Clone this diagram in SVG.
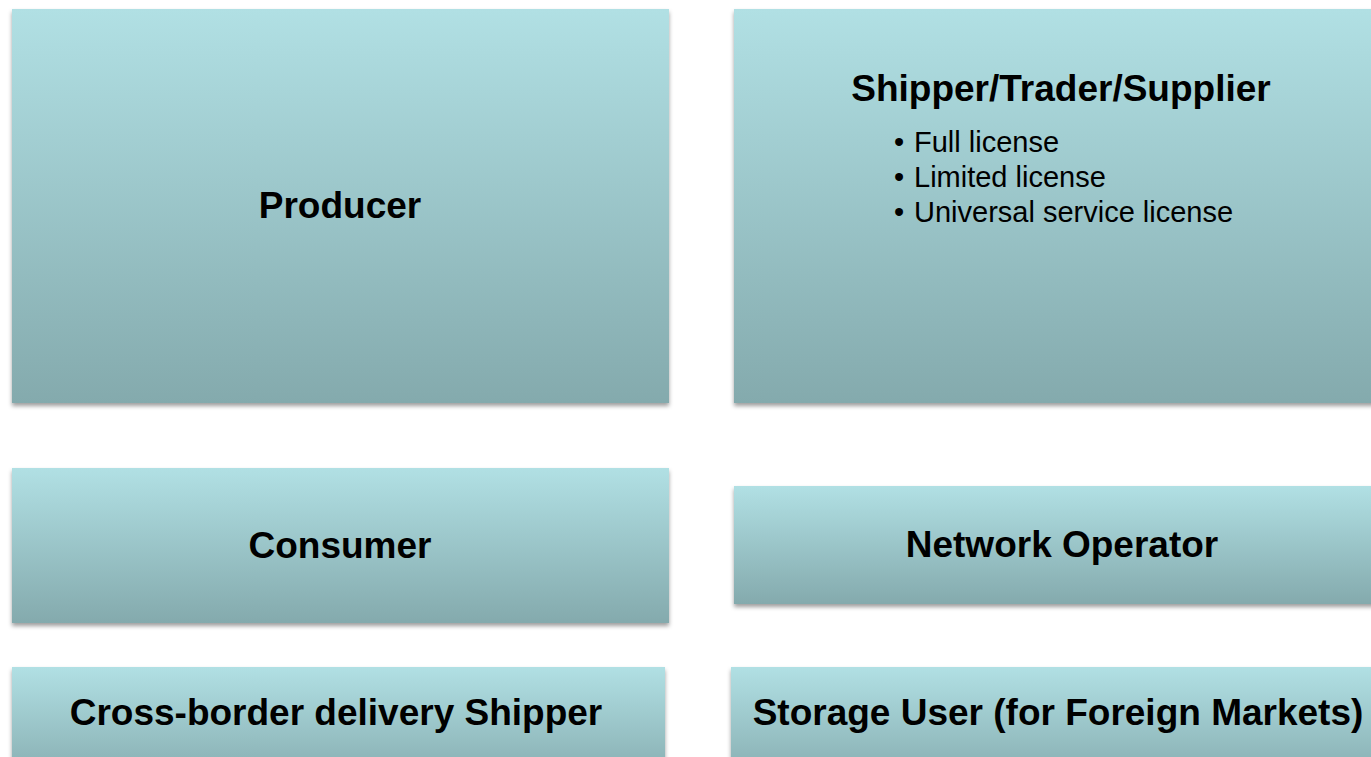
<svg xmlns="http://www.w3.org/2000/svg" width="1371" height="757" viewBox="0 0 1371 757">
  <defs>
    <linearGradient id="g" x1="0" y1="0" x2="0" y2="1">
      <stop offset="0" stop-color="#B1E0E4"/>
      <stop offset="1" stop-color="#84AAAD"/>
    </linearGradient>
    <filter id="sh" x="-5%" y="-5%" width="110%" height="120%">
      <feDropShadow dx="0" dy="3" stdDeviation="2.2" flood-color="#000" flood-opacity="0.38"/>
    </filter>
  </defs>
  <style>
    .box { fill: url(#g); filter: url(#sh); }
    .t { font-family: "Liberation Sans", Arial, sans-serif; font-weight: bold; font-size: 37px; fill: #000; text-anchor: middle; }
    .b { font-family: "Liberation Sans", Arial, sans-serif; font-size: 29px; fill: #000; }
  </style>
  <rect width="1371" height="757" fill="#fff"/>
  <g id="producer">
    <rect class="box" x="12" y="9" width="657" height="394"/>
    <text class="t" x="340" y="218">Producer</text>
  </g>
  <g id="shipper">
    <rect class="box" x="734" y="9" width="660" height="394"/>
    <text class="t" x="1061" y="101">Shipper/Trader/Supplier</text>
    <text class="b" x="894" y="152">•<tspan x="914">Full license</tspan></text>
    <text class="b" x="894" y="187">•<tspan x="914">Limited license</tspan></text>
    <text class="b" x="894" y="222">•<tspan x="914">Universal service license</tspan></text>
  </g>
  <g id="consumer">
    <rect class="box" x="12" y="468" width="657" height="155"/>
    <text class="t" x="340" y="558">Consumer</text>
  </g>
  <g id="network-operator">
    <rect class="box" x="734" y="486" width="660" height="118"/>
    <text class="t" x="1062" y="557">Network Operator</text>
  </g>
  <g id="cross-border">
    <rect class="box" x="12" y="667" width="653" height="118"/>
    <text class="t" x="336" y="725">Cross-border delivery Shipper</text>
  </g>
  <g id="storage-user">
    <rect class="box" x="731" y="667" width="663" height="118"/>
    <text class="t" x="1058" y="725">Storage User (for Foreign Markets)</text>
  </g>
  <g id="connectors"/>
</svg>
